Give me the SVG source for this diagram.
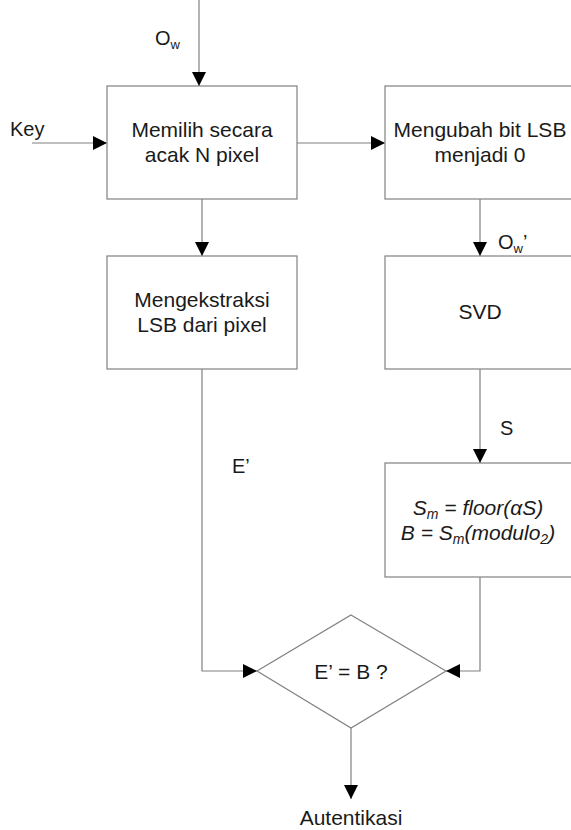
<svg xmlns="http://www.w3.org/2000/svg" width="571" height="830" viewBox="0 0 571 830">
<style>
.box{fill:#fff;stroke:#808080;stroke-width:1.2}
.ln{fill:none;stroke:#808080;stroke-width:1.2}
text{font-family:"Liberation Sans",Arial,sans-serif;fill:#1a1a1a}
.t{font-size:21px;text-anchor:middle}
.l{font-size:20px}
.it{font-style:italic}
</style>
<defs>
<marker id="ah" viewBox="0 0 14 14" refX="14" refY="7" markerWidth="14" markerHeight="14" markerUnits="userSpaceOnUse" orient="auto">
<path d="M0,0 L14,7 L0,14 Z" fill="#000"/>
</marker>
</defs>
<rect width="571" height="830" fill="#fff"/>
<g id="connectors">
<line class="ln" x1="199" y1="0" x2="199" y2="86" marker-end="url(#ah)"/>
<line class="ln" x1="32" y1="143" x2="107" y2="143" marker-end="url(#ah)"/>
<line class="ln" x1="297" y1="143" x2="385" y2="143" marker-end="url(#ah)"/>
<line class="ln" x1="202" y1="199" x2="202" y2="256" marker-end="url(#ah)"/>
<line class="ln" x1="480" y1="199" x2="480" y2="256" marker-end="url(#ah)"/>
<line class="ln" x1="480" y1="369" x2="480" y2="463" marker-end="url(#ah)"/>
<polyline class="ln" points="202,369 202,671 257,671" marker-end="url(#ah)"/>
<polyline class="ln" points="480,577 480,671 446,671" marker-end="url(#ah)"/>
<line class="ln" x1="351" y1="728" x2="351" y2="799" marker-end="url(#ah)"/>
<text class="l" x="155" y="45">O<tspan font-size="13" dy="4">w</tspan></text>
<text class="l" x="10" y="136">Key</text>
<text class="l" x="498" y="249">O<tspan font-size="13" dy="4">w</tspan><tspan dy="-4">’</tspan></text>
<text class="l" x="500" y="435">S</text>
<text class="l" x="232" y="473">E’</text>
<text class="t" x="351" y="825">Autentikasi</text>
</g>
<g id="n1">
<rect class="box" x="107" y="86" width="190" height="113"/>
<text class="t" x="202" y="137">Memilih secara</text>
<text class="t" x="202" y="162">acak N pixel</text>
</g>
<g id="n2">
<rect class="box" x="385" y="86" width="190" height="113"/>
<text class="t" x="480" y="137">Mengubah bit LSB</text>
<text class="t" x="480" y="162">menjadi 0</text>
</g>
<g id="n3">
<rect class="box" x="107" y="256" width="190" height="113"/>
<text class="t" x="202" y="307">Mengekstraksi</text>
<text class="t" x="202" y="332">LSB dari pixel</text>
</g>
<g id="n4">
<rect class="box" x="385" y="256" width="190" height="113"/>
<text class="t" x="480" y="319">SVD</text>
</g>
<g id="n5">
<rect class="box" x="385" y="463" width="190" height="114"/>
<text class="t it" x="478" y="515">S<tspan font-size="14" dy="4">m</tspan><tspan dy="-4"> = floor(αS)</tspan></text>
<text class="t it" x="478" y="540">B = S<tspan font-size="14" dy="4">m</tspan><tspan dy="-4">(modulo</tspan><tspan font-size="14" dy="4">2</tspan><tspan dy="-4">)</tspan></text>
</g>
<g id="n6">
<polygon class="box" points="351,615 446,671 351,728 257,671"/>
<text class="t" x="351" y="679">E’ = B ?</text>
</g>
</svg>
